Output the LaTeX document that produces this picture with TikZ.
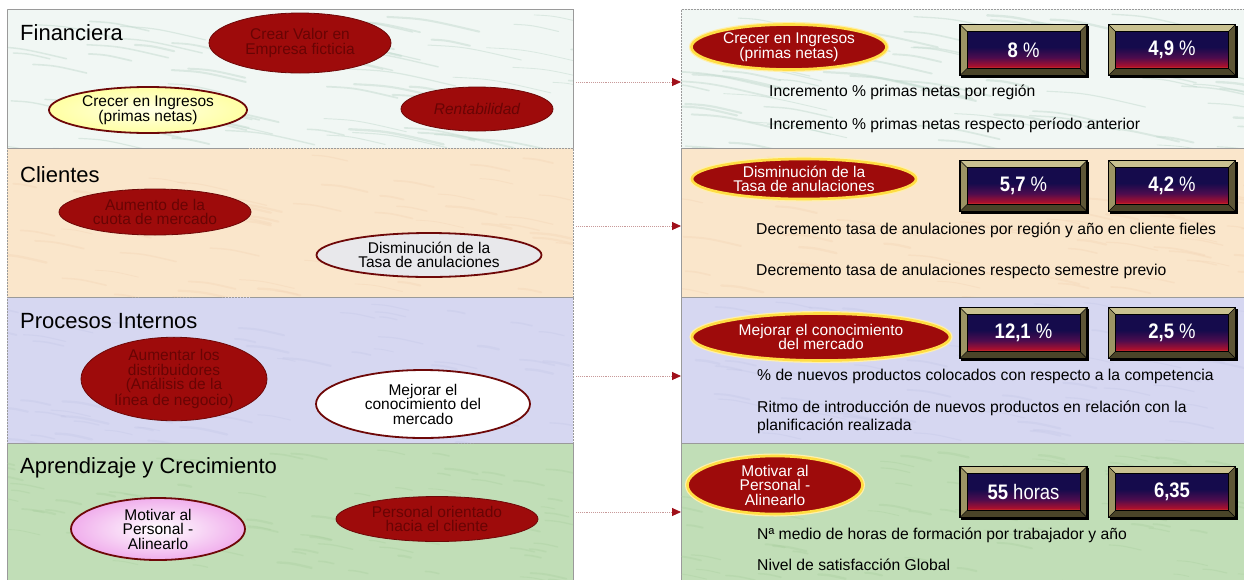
\documentclass[tikz,border=0pt]{standalone}
\usepackage{fontspec}
\setmainfont{Liberation Sans}
\newfontfamily\valfont[FakeStretch=0.88]{Liberation Sans}
\usetikzlibrary{shapes.geometric,arrows.meta,calc}

% band backgrounds
\definecolor{finbg}{HTML}{F1F7F4}
\definecolor{finstreak}{HTML}{C4DBD0}
\definecolor{clibg}{HTML}{FAE6CB}
\definecolor{clispot}{HTML}{F2D2B4}
\definecolor{probg}{HTML}{D6D7F1}
\definecolor{prospot}{HTML}{C4C6E6}
\definecolor{aprbg}{HTML}{C1DEB7}
\definecolor{aprspot}{HTML}{A9CF9E}
\definecolor{bandline}{HTML}{9A9A9A}
% ovals
\definecolor{ovred}{HTML}{9E0B0B}
\definecolor{ovrim}{HTML}{6E0808}
\definecolor{ovtext}{HTML}{680404}
\definecolor{glow}{HTML}{FFDD44}
\definecolor{lightyel}{HTML}{FFFFC0}
\definecolor{lightgrey}{HTML}{E8E8EB}
\definecolor{pinkedge}{HTML}{F0AEEC}
% connectors
\definecolor{linkred}{HTML}{C89A9A}
\definecolor{tipred}{HTML}{A0101A}
% value boxes
\definecolor{vnavy}{HTML}{150B4C}
\definecolor{vplum}{HTML}{4C0C4E}
\definecolor{vcrim}{HTML}{B0102C}
\definecolor{vorange}{HTML}{EC7A2C}
\definecolor{bevtop}{HTML}{C9C190}
\definecolor{bevleft}{HTML}{9C9464}
\definecolor{bevright}{HTML}{5E5636}
\definecolor{bevbot}{HTML}{4A4428}

\pgfdeclareverticalshading{valshade}{100bp}{color(0bp)=(vorange); color(25bp)=(vorange); color(27.5bp)=(vcrim); color(40bp)=(vplum); color(54bp)=(vnavy); color(100bp)=(vnavy)}

\tikzset{
  band/.style={draw=bandline, densely dotted, line width=0.5pt, anchor=north west,
    inner sep=0pt, outer sep=0pt},
  title/.style={anchor=base west, inner sep=0pt, font=\fontsize{22}{26}\selectfont},
  oval/.style={ellipse, inner sep=0pt, align=center, font=\fontsize{15.5}{14.5}\selectfont},
  darkoval/.style={oval, fill=ovred, draw=ovrim, line width=0.8pt, text=ovtext},
  rimoval/.style={oval, draw=ovrim, line width=1.8pt, text=black},
  glowoval/.style={oval, fill=ovred, draw=glow, line width=2.6pt, text=white,
    preaction={draw=glow!45!white, line width=5pt}},
  kpi/.style={anchor=base west, inner sep=0pt, align=left,
    font=\fontsize{15.7}{18}\selectfont},
  vbox/.style={rectangle, inner sep=0pt, outer sep=0pt, minimum width=113pt,
    minimum height=37pt, shading=valshade, draw=black, line width=0.8pt,
    text=white, font=\valfont\fontsize{21}{24}\selectfont},
  link/.style={draw=linkred, densely dotted, line width=0.9pt,
    -{Triangle[length=9pt,width=8pt,color=tipred]}},
}

% a bevelled value box: name, x, y, content
\newcommand{\valuebox}[4]{%
  \node[vbox] (#1) at (#2,#3) {#4};
  \fill[bevtop] (#1.north west) -- (#1.north east) -- ([shift={(7pt,7pt)}]#1.north east) -- ([shift={(-7pt,7pt)}]#1.north west) -- cycle;
  \fill[bevright] (#1.north east) -- ([shift={(7pt,7pt)}]#1.north east) -- ([shift={(7pt,-7pt)}]#1.south east) -- (#1.south east) -- cycle;
  \fill[bevbot] (#1.south west) -- (#1.south east) -- ([shift={(7pt,-7pt)}]#1.south east) -- ([shift={(-7pt,-7pt)}]#1.south west) -- cycle;
  \fill[bevleft] (#1.north west) -- ([shift={(-7pt,7pt)}]#1.north west) -- ([shift={(-7pt,-7pt)}]#1.south west) -- (#1.south west) -- cycle;
  \draw[black, line width=0.6pt] (#1.north west) -- ++(-7pt,7pt) (#1.north east) -- ++(7pt,7pt)
    (#1.south west) -- ++(-7pt,-7pt) (#1.south east) -- ++(7pt,-7pt);
  \draw[black, line width=1.6pt] ([shift={(-7pt,-7pt)}]#1.south west) rectangle ([shift={(7pt,7pt)}]#1.north east);
  \draw[black, line width=2.4pt] ([shift={(-6pt,-8pt)}]#1.south west) -- ([shift={(8pt,-8pt)}]#1.south east) -- ([shift={(8pt,6pt)}]#1.north east);
  \draw[black, line width=0.8pt] (#1.south west) rectangle (#1.north east);
}

% random soft marks inside a band: node, colour, seed, count, length, opacity
\newcommand{\streaks}[6]{%
  \begin{scope}
    \clip (#1.south west) rectangle (#1.north east);
    \pgfmathsetseed{#3}
    \foreach \k in {1,...,#4}{
      \pgfmathsetmacro\sx{-20+600*rnd}
      \pgfmathsetmacro\sy{-5-150*rnd}
      \pgfmathsetmacro\len{#5*(0.4+0.8*rnd)}
      \pgfmathsetmacro\wd{0.8+1.6*rnd}
      \draw[#2, line width=\wd pt, line cap=round, opacity=#6]
        ($(#1.north west)+(\sx,\sy)$) .. controls +(\len*0.4,-\len*0.02) .. +(\len,-\len*0.16);
    }
  \end{scope}
}

\begin{document}
\begin{tikzpicture}[x=1pt,y=1pt]
\useasboundingbox (0,0) rectangle (1244,-579);
\fill[white] (0,0) rectangle (1244,-579);

% perspective bands, left and right
\node[band, fill=finbg, minimum width=566pt, minimum height=139pt] (L1) at (7,-9) {};
\node[band, fill=clibg, minimum width=566pt, minimum height=149pt] (L2) at (7,-148) {};
\node[band, fill=probg, minimum width=566pt, minimum height=146pt] (L3) at (7,-297) {};
\node[band, fill=aprbg, minimum width=566pt, minimum height=141pt] (L4) at (7,-443) {};
\node[band, fill=finbg, minimum width=570pt, minimum height=139pt] (R1) at (681,-9) {};
\node[band, fill=clibg, minimum width=570pt, minimum height=149pt] (R2) at (681,-148) {};
\node[band, fill=probg, minimum width=570pt, minimum height=146pt] (R3) at (681,-297) {};
\node[band, fill=aprbg, minimum width=570pt, minimum height=141pt] (R4) at (681,-443) {};

% surface textures
\streaks{L1}{finstreak}{11}{80}{90}{0.5}
\streaks{R1}{finstreak}{23}{80}{90}{0.5}
\streaks{L2}{clispot}{5}{60}{50}{0.35}
\streaks{R2}{clispot}{6}{60}{50}{0.35}
\streaks{L3}{prospot}{7}{70}{40}{0.35}
\streaks{R3}{prospot}{8}{70}{40}{0.35}
\streaks{L4}{aprspot}{9}{90}{30}{0.35}
\streaks{R4}{aprspot}{10}{90}{30}{0.35}

% redraw the dotted frames over the textures
\foreach \b in {L1,L2,L3,L4,R1,R2,R3,R4}
  \draw[bandline, densely dotted, line width=0.5pt] (\b.south west) rectangle (\b.north east);

% perspective titles
\node[title] (tfin) at (20,-40) {Financiera};
\node[title] (tcli) at (20,-182) {Clientes};
\node[title] (tpro) at (20,-328) {Procesos Internos};
\node[title] (tapr) at (20,-473) {Aprendizaje y Crecimiento};

% strategic objectives
\node[darkoval, minimum width=182pt, minimum height=60pt] (crear) at (300,-43) {Crear Valor en\\Empresa ficticia};
\node[rimoval, shading=radial, inner color=lightyel!40!white, outer color=lightyel!85!yellow,
  minimum width=198pt, minimum height=46pt] (ingresos) at (148,-110) {Crecer en Ingresos\\(primas netas)};
\node[darkoval, minimum width=152pt, minimum height=44pt, font=\fontsize{15.5}{14.5}\selectfont\itshape] (renta) at (477,-109) {Rentabilidad};

\node[darkoval, minimum width=192pt, minimum height=46pt] (cuota) at (155,-212) {Aumento de la\\cuota de mercado};
\node[rimoval, fill=lightgrey, minimum width=225pt, minimum height=44pt] (anul) at (429,-255) {Disminución de la\\Tasa de anulaciones};

\node[darkoval, minimum width=186pt, minimum height=82pt] (distri) at (174,-379) {Aumentar los\\distribuidores\\(Análisis de la\\línea de negocio)};
\node[rimoval, fill=white, minimum width=214pt, minimum height=68pt] (conoc) at (423,-404) {Mejorar el\\conocimiento del\\mercado};

\node[rimoval, shading=radial, inner color=white, outer color=pinkedge,
  minimum width=174pt, minimum height=62pt] (motivar) at (158,-529) {Motivar al\\Personal -\\Alinearlo};
\node[darkoval, minimum width=202pt, minimum height=45pt] (orient) at (437,-519) {Personal orientado\\hacia el cliente};

% connectors to the indicator panels
\draw[link] ([xshift=3pt,yshift=-3.5pt]L1.east) -- ([yshift=-3.5pt]R1.west);
\draw[link] ([xshift=3pt,yshift=-3.5pt]L2.east) -- ([yshift=-3.5pt]R2.west);
\draw[link] ([xshift=3pt,yshift=-6pt]L3.east) -- ([yshift=-6pt]R3.west);
\draw[link] ([xshift=3pt,yshift=1.5pt]L4.east) -- ([yshift=1.5pt]R4.west);

% indicator panels
\node[glowoval, minimum width=195pt, minimum height=45pt] (r1) at (789,-47) {Crecer en Ingresos\\(primas netas)};
\valuebox{v11}{1023.5}{-50}{\textbf{8} \%}
\valuebox{v12}{1172}{-50}{\textbf{4,9} \%}
\node[kpi] (k11) at (769,-96) {Incremento \% primas netas por región};
\node[kpi] (k12) at (769,-129) {Incremento \% primas netas respecto período anterior};

\node[glowoval, minimum width=224pt, minimum height=40pt] (r2) at (804,-179) {Disminución de la\\Tasa de anulaciones};
\valuebox{v21}{1023.5}{-186}{\textbf{5,7} \%}
\valuebox{v22}{1172}{-186}{\textbf{4,2} \%}
\node[kpi] (k21) at (756,-234) {Decremento tasa de anulaciones por región y año en cliente fieles};
\node[kpi] (k22) at (756,-275) {Decremento tasa de anulaciones respecto semestre previo};

\node[glowoval, minimum width=258pt, minimum height=47pt] (r3) at (821,-337) {Mejorar el conocimiento\\del mercado};
\valuebox{v31}{1023.5}{-333}{\textbf{12,1} \%}
\valuebox{v32}{1172}{-333}{\textbf{2,5} \%}
\node[kpi] (k31) at (757,-380) {\% de nuevos productos colocados con respecto a la competencia};
\node[kpi] (k32) at (757,-430) {Ritmo de introducción de nuevos productos en relación con la\\planificación realizada};

\node[glowoval, minimum width=175pt, minimum height=58pt] (r4) at (775,-485) {Motivar al\\Personal -\\Alinearlo};
\valuebox{v41}{1023.5}{-492}{\textbf{55} horas}
\valuebox{v42}{1172}{-492}{\textbf{6,35}}
\node[kpi] (k41) at (757,-539) {Nª medio de horas de formación por trabajador y año};
\node[kpi] (k42) at (757,-570) {Nivel de satisfacción Global};
\end{tikzpicture}
\end{document}
